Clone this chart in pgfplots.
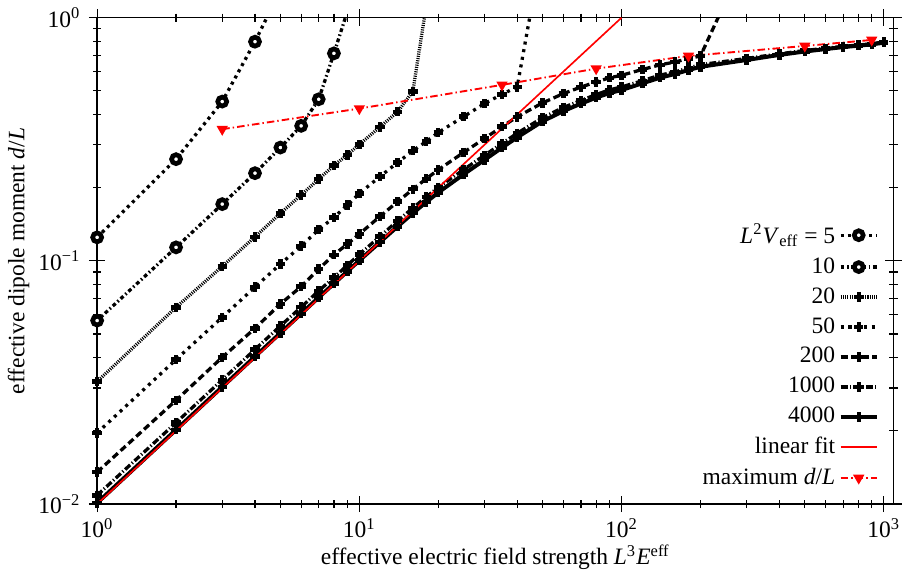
\documentclass[border=0pt]{standalone}
\usepackage{fontspec}
\setmainfont{Liberation Serif}
\usepackage{pgfplots}
\pgfplotsset{compat=1.18}
\begin{document}
\begin{tikzpicture}
\begin{axis}[
  xmode=log, ymode=log,
  scale only axis, width=339pt, height=207pt,
  xmin=1, xmax=1090, ymin=0.01, ymax=1,
  xtick={1,10,100,1000},
  xticklabels={10\textsuperscript{0},10\textsuperscript{1},10\textsuperscript{2},10\textsuperscript{3}},
  minor xtick={2,3,4,5,6,7,8,9,20,30,40,50,60,70,80,90,200,300,400,500,600,700,800,900},
  ytick={0.01,0.1,1},
  yticklabels={10\textsuperscript{−2},10\textsuperscript{−1},10\textsuperscript{0}},
  minor ytick={0.02,0.03,0.04,0.05,0.06,0.07,0.08,0.09,0.2,0.3,0.4,0.5,0.6,0.7,0.8,0.9},
  tick align=center, major tick length=7pt, minor tick length=3.5pt,
  axis line style={line width=0.6pt},
  every tick/.style={black, line width=0.5pt},
  xticklabel style={yshift=1pt},
  xlabel={effective electric field strength \textit{L}\textsuperscript{3}\textit{E}\textsuperscript{eff}},
  ylabel={effective dipole moment \textit{d}/\textit{L}},
  xlabel style={yshift=4pt},
  ylabel style={yshift=-3pt},
  legend style={at={(0.985,0.02)}, anchor=south east, draw=none, fill=none, row sep=1.6pt,
    inner sep=1pt, nodes={inner sep=1.5pt}},
  legend cell align=right, legend plot pos=right,
  legend image code/.code={\draw[mark repeat=2,mark phase=2] plot coordinates {(0cm,0cm) (0.27cm,0cm) (0.54cm,0cm)};},
  circ/.style={line width=1.4pt, mark=*, mark size=1.9pt, mark options={solid, fill=white, draw=black, line width=2pt}},
  cross/.style={line width=1.4pt, mark=+, mark size=2pt, mark options={solid, line width=1.9pt}},
]
% L^2 V_eff = 5
\addplot[black, circ, dash pattern=on 1.3pt off 1.7pt] coordinates {
(1,0.1249) (2,0.2619) (3,0.4519) (4,0.797) (5,1.3)};
\addlegendentry{\textit{L}\textsuperscript{2}\textit{V}\textsubscript{eff} = 5}
% 10
\addplot[black, circ, dash pattern=on 1.6pt off 1.15pt on 0.65pt off 1.15pt] coordinates {
(1,0.0568) (2,0.1136) (3,0.1711) (4,0.2294) (5,0.2924) (6,0.359) (7,0.4618) (8,0.7134) (9,1.06)};
\addlegendentry{10}
% 20
\addplot[black, cross, dash pattern=on 0.45pt off 0.5pt] coordinates {
(1,0.0319) (2,0.0644) (3,0.0949) (4,0.1255) (5,0.1567) (6,0.1866) (7,0.2168) (8,0.2467) (9,0.2729) (10,0.3009)
(12,0.3557) (14,0.4103) (16,0.498) (18,1.12)};
\addlegendentry{20}
% 50
\addplot[black, cross, dash pattern=on 1.3pt off 2pt] coordinates {
(1,0.0196) (2,0.0393) (3,0.0586) (4,0.078) (5,0.097) (6,0.115) (7,0.1344) (8,0.1509) (9,0.1695) (10,0.1893)
(12,0.2223) (14,0.2538) (16,0.2836) (18,0.3095) (20,0.337) (25,0.392) (30,0.4433) (35,0.4842) (40,0.5194) (45,1.05)};
\addlegendentry{50}
% 200
\addplot[black, cross, dash pattern=on 2.9pt off 1.6pt] coordinates {
(1,0.01353) (2,0.0267) (3,0.0401) (4,0.0528) (5,0.0665) (6,0.0784) (7,0.0925) (8,0.1059) (9,0.1172) (10,0.1289)
(12,0.1524) (14,0.1752) (16,0.197) (18,0.2176) (20,0.2368) (25,0.2792) (30,0.3185) (35,0.3562) (40,0.3912)
(50,0.4463) (60,0.4873) (70,0.5183) (80,0.544) (90,0.566) (100,0.5796) (120,0.6122) (140,0.6396) (160,0.6574)
(180,0.679) (200,0.6958) (300,1.8)};
\addlegendentry{200}
% 1000
\addplot[black, cross, dash pattern=on 2.9pt off 1pt on 0.5pt off 1pt] coordinates {
(1,0.01086) (2,0.0216) (3,0.0324) (4,0.0432) (5,0.054) (6,0.0645) (7,0.0753) (8,0.0854) (9,0.0959) (10,0.1063)
(12,0.1261) (14,0.1461) (16,0.1649) (18,0.1832) (20,0.2006) (25,0.2372) (30,0.2717) (35,0.3037) (40,0.3349)
(50,0.3881) (60,0.4275) (70,0.4563) (80,0.4831) (90,0.5047) (100,0.5191) (120,0.5504) (140,0.5802) (160,0.5987)
(180,0.6212) (200,0.6406) (300,0.680) (400,0.710) (500,0.733) (600,0.749) (700,0.762) (800,0.772) (900,0.781) (1000,0.795)};
\addlegendentry{1000}
% 4000
\addplot[black, cross, line width=1.7pt] coordinates {
(1,0.0101) (2,0.0202) (3,0.0303) (4,0.0404) (5,0.0505) (6,0.0606) (7,0.0707) (8,0.0806) (9,0.0905) (10,0.1003)
(12,0.1195) (14,0.1385) (16,0.157) (18,0.1745) (20,0.191) (25,0.227) (30,0.26) (35,0.292) (40,0.322)
(50,0.375) (60,0.413) (70,0.443) (80,0.469) (90,0.49) (100,0.504) (120,0.537) (140,0.566) (160,0.587)
(180,0.609) (200,0.628) (300,0.670) (400,0.703) (500,0.726) (600,0.743) (700,0.757) (800,0.767) (900,0.777) (1000,0.789)};
\addlegendentry{4000}
% linear fit
\addplot[red, line width=0.7pt] coordinates {(1,0.01) (100,1)};
\addlegendentry{linear fit}
% maximum d/L
\addplot[red, line width=0.8pt, dash pattern=on 3.2pt off 1.3pt on 0.6pt off 1.3pt, mark=triangle*, mark size=2pt, mark options={solid, rotate=180}] coordinates {
(3,0.3478) (10,0.4229) (35,0.5292) (80,0.6173) (180,0.696) (500,0.765) (900,0.81)};
\addlegendentry{maximum \textit{d}/\textit{L}}
\end{axis}
\end{tikzpicture}
\end{document}
